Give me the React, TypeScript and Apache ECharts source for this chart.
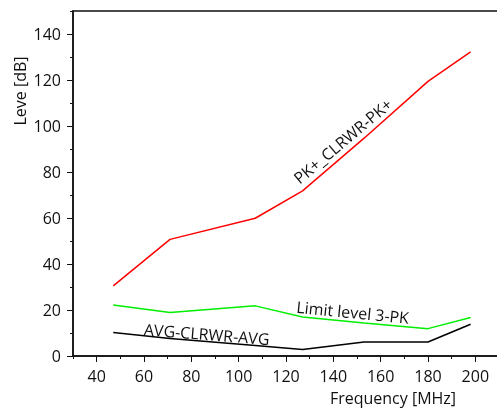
import React, { useEffect, useRef } from "react";
import * as echarts from "echarts";

const freqs = [47, 71, 107, 127, 153, 180, 198];
const pkValues = [30.5, 50.7, 59.9, 71.8, 94.7, 119.4, 132.2];
const limitValues = [22.2, 18.9, 21.8, 17.0, 14.4, 11.9, 16.7];
const avgValues = [10.2, 7.6, 4.6, 2.8, 6.1, 6.1, 13.8];
const xMajorTicks = [40, 60, 80, 100, 120, 140, 160, 180, 200];
const yMajorTicks = [0, 20, 40, 60, 80, 100, 120, 140];

const FONT = "Open Sans";

export default function App() {
  const ref = useRef<HTMLDivElement>(null);
  useEffect(() => {
    if (!ref.current) return;
    const chart = echarts.init(ref.current, null, { renderer: "svg" });
    const pair = (vals: number[]) => freqs.map((f, i) => [f, vals[i]]);
    const textStyle = { fontFamily: FONT, fontSize: 16, color: "#111" };
    const mkLabel = (text: string, coord: number[], rotate: number) => ({
      symbolSize: 0,
      silent: true,
      data: [
        {
          coord,
          symbolSize: 0,
          label: {
            show: true,
            position: "inside",
            formatter: text,
            rotate,
            ...textStyle,
          },
        },
      ],
    });
    chart.setOption({
      animation: false,
      grid: {
        left: 73,
        top: 11,
        width: 426,
        height: 345,
        outerBoundsMode: "none",
        containLabel: false,
        show: true,
        borderColor: "#111",
        borderWidth: 1.5,
        backgroundColor: "transparent",
      },
      xAxis: [
        {
          type: "value",
          min: 30,
          max: 210,
          interval: 10,
          splitLine: { show: false },
          axisLine: { lineStyle: { color: "#111", width: 1.5 } },
          axisTick: { length: 3, lineStyle: { color: "#111", width: 1 } },
          axisLabel: {
            ...textStyle,
            margin: 12,
            formatter: (v: number) => (xMajorTicks.includes(v) ? String(v) : ""),
          },
        },
        {
          type: "value",
          position: "bottom",
          min: 30,
          max: 210,
          interval: 10,
          splitLine: { show: false },
          axisLine: { show: false },
          axisTick: {
            length: 6,
            customValues: xMajorTicks,
            lineStyle: { color: "#111", width: 1 },
          },
          axisLabel: { show: false },
        },
      ],
      yAxis: [
        {
          type: "value",
          min: 0,
          max: 150,
          interval: 10,
          splitLine: { show: false },
          axisLine: { show: true, lineStyle: { color: "#111", width: 1.5 } },
          axisTick: { show: true, length: 3, lineStyle: { color: "#111", width: 1 } },
          axisLabel: {
            ...textStyle,
            margin: 12,
            formatter: (v: number) => (yMajorTicks.includes(v) ? String(v) : ""),
          },
        },
        {
          type: "value",
          position: "left",
          min: 0,
          max: 150,
          interval: 10,
          splitLine: { show: false },
          axisLine: { show: false },
          axisTick: {
            show: true,
            length: 6,
            customValues: yMajorTicks,
            lineStyle: { color: "#111", width: 1 },
          },
          axisLabel: { show: false },
        },
      ],
      graphic: [
        {
          type: "text",
          x: 20,
          y: 91,
          rotation: Math.PI / 2,
          style: {
            text: "Leve [dB]",
            font: `16px '${FONT}'`,
            fill: "#111",
            align: "center",
            verticalAlign: "middle",
          },
        },
        {
          type: "text",
          x: 393,
          y: 398,
          style: {
            text: "Frequency [MHz]",
            font: `16px '${FONT}'`,
            fill: "#111",
            align: "center",
            verticalAlign: "middle",
          },
        },
      ],
      series: [
        {
          type: "line",
          name: "PK+_CLRWR-PK+",
          data: pair(pkValues),
          showSymbol: false,
          lineStyle: { color: "#ff0000", width: 1.5 },
          markPoint: mkLabel("PK+_CLRWR-PK+", [144, 93.5], 40),
        },
        {
          type: "line",
          name: "Limit level 3-PK",
          data: pair(limitValues),
          showSymbol: false,
          lineStyle: { color: "#00ee00", width: 1.5 },
          markPoint: mkLabel("Limit level 3-PK", [148.2, 19], -5.6),
        },
        {
          type: "line",
          name: "AVG-CLRWR-AVG",
          data: pair(avgValues),
          showSymbol: false,
          lineStyle: { color: "#000000", width: 1.5 },
          markPoint: mkLabel("AVG-CLRWR-AVG", [86.5, 9.5], -4.5),
        },
      ],
    });
    return () => chart.dispose();
  }, []);
  return (
    <div
      ref={ref}
      style={{ position: "fixed", left: 0, top: 0, width: 497, height: 409 }}
    />
  );
}
